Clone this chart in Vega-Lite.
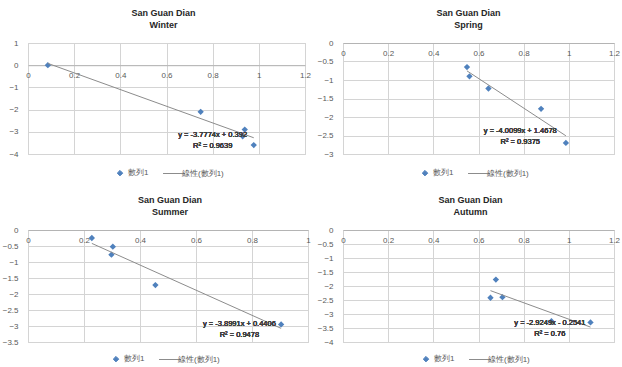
{
  "$schema": "https://vega.github.io/schema/vega-lite/v6.json",
  "background": "white",
  "padding": {"left": 1, "top": 8, "right": 0, "bottom": 0},
  "datasets": {
    "winter": [{"x": 0.086, "y": 0.0}, {"x": 0.748, "y": -2.1}, {"x": 0.939, "y": -2.9}, {"x": 0.93, "y": -3.2}, {"x": 0.978, "y": -3.6}],
    "spring": [{"x": 0.549, "y": -0.65}, {"x": 0.56, "y": -0.9}, {"x": 0.644, "y": -1.23}, {"x": 0.877, "y": -1.78}, {"x": 0.987, "y": -2.7}],
    "summer": [{"x": 0.228, "y": -0.25}, {"x": 0.303, "y": -0.52}, {"x": 0.298, "y": -0.77}, {"x": 0.455, "y": -1.72}, {"x": 0.904, "y": -2.95}],
    "autumn": [{"x": 0.653, "y": -2.42}, {"x": 0.677, "y": -1.77}, {"x": 0.706, "y": -2.4}, {"x": 0.923, "y": -3.26}, {"x": 1.096, "y": -3.3}]
  },
  "config": {
    "font": "Liberation Sans",
    "view": {"stroke": "#c8c8c8", "strokeWidth": 1},
    "axis": {"labelFont": "Liberation Sans", "labelFontSize": 8, "labelColor": "#595959", "gridColor": "#d4d4d4", "ticks": false, "tickSize": 0, "labelFlush": false, "labelOverlap": false, "title": null, "format": "~g"},
    "title": {"fontSize": 9, "fontWeight": "bold", "color": "#262626", "lineHeight": 12.5, "offset": 9},
    "legend": {"orient": "none", "direction": "horizontal", "labelFontSize": 8, "labelColor": "#595959", "title": null, "symbolSize": 30, "columnPadding": 12, "symbolStrokeWidth": 1}
  },
  "spacing": 16,
  "resolve": {"scale": {"x": "independent", "y": "independent", "color": "independent", "shape": "independent"}, "axis": {"x": "independent", "y": "independent"}, "legend": {"color": "independent", "shape": "independent"}},
  "vconcat": [
    {
      "spacing": 4,
      "resolve": {"scale": {"x": "independent", "y": "independent", "color": "independent", "shape": "independent"}, "axis": {"x": "independent", "y": "independent"}, "legend": {"color": "independent", "shape": "independent"}},
      "hconcat": [
        {
          "title": {"text": ["San Guan Dian", "Winter"], "dx": -3},
          "width": 277, "height": 111,
          "data": {"name": "winter"},
          "resolve": {"axis": {"x": "independent"}},
          "layer": [
            {
              "mark": {"type": "point", "shape": "diamond", "filled": true, "size": 40, "opacity": 1},
              "encoding": {
                "x": {"field": "x", "type": "quantitative", "scale": {"domain": [0, 1.2], "nice": false}, "axis": {"orient": "bottom", "labels": false, "domain": false, "grid": true, "values": [0, 0.2, 0.4, 0.6, 0.8, 1, 1.2]}},
                "y": {"field": "y", "type": "quantitative", "scale": {"domain": [-4, 1], "nice": false}, "axis": {"values": [1, 0, -1, -2, -3, -4], "domain": false, "labelPadding": 10}},
                "color": {"datum": "數列1", "scale": {"domain": ["數列1", "線性(數列1)"], "range": ["#4f81bd", "#8c8c8c"]}, "legend": {"legendX": 88, "legendY": 126}},
                "shape": {"datum": "數列1", "scale": {"domain": ["數列1", "線性(數列1)"], "range": ["diamond", "M-4,0H4"]}, "legend": {"legendX": 88, "legendY": 126}}
              }
            },
            {
              "transform": [{"regression": "y", "on": "x"}],
              "mark": {"type": "line", "strokeWidth": 1},
              "encoding": {
                "x": {"field": "x", "type": "quantitative", "axis": {"orient": "top", "offset": -22.2, "grid": false, "domain": true, "domainColor": "#b4b4b4", "labelBaseline": "middle", "labelPadding": -10, "values": [0, 0.2, 0.4, 0.6, 0.8, 1, 1.2]}},
                "y": {"field": "y", "type": "quantitative", "axis": {"values": [1, 0, -1, -2, -3, -4], "domain": false, "labelPadding": 10}},
                "color": {"datum": "線性(數列1)"}
              }
            },
            {
              "mark": {"type": "text", "fontSize": 7.5, "fontWeight": "normal", "color": "#404040", "lineHeight": 11, "baseline": "top"},
              "encoding": {
                "x": {"datum": 0.8, "type": "quantitative", "axis": null},
                "y": {"datum": -2.95, "type": "quantitative", "axis": {"values": [1, 0, -1, -2, -3, -4], "domain": false, "labelPadding": 10}},
                "text": {"value": ["y = -3.7774x + 0.392", "R² = 0.9639"]}
              }
            }
          ]
        },
        {
          "title": {"text": ["San Guan Dian", "Spring"], "dx": -10},
          "width": 271, "height": 111,
          "data": {"name": "spring"},
          "resolve": {"axis": {"x": "independent"}},
          "layer": [
            {
              "mark": {"type": "point", "shape": "diamond", "filled": true, "size": 40, "opacity": 1},
              "encoding": {
                "x": {"field": "x", "type": "quantitative", "scale": {"domain": [0, 1.2], "nice": false}, "axis": {"orient": "bottom", "labels": false, "domain": false, "grid": true, "values": [0, 0.2, 0.4, 0.6, 0.8, 1, 1.2]}},
                "y": {"field": "y", "type": "quantitative", "scale": {"domain": [-3, 0], "nice": false}, "axis": {"values": [0, -0.5, -1, -1.5, -2, -2.5, -3], "domain": false, "labelPadding": 10}},
                "color": {"datum": "數列1", "scale": {"domain": ["數列1", "線性(數列1)"], "range": ["#4f81bd", "#8c8c8c"]}, "legend": {"legendX": 78, "legendY": 126}},
                "shape": {"datum": "數列1", "scale": {"domain": ["數列1", "線性(數列1)"], "range": ["diamond", "M-4,0H4"]}, "legend": {"legendX": 78, "legendY": 126}}
              }
            },
            {
              "transform": [{"regression": "y", "on": "x"}],
              "mark": {"type": "line", "strokeWidth": 1},
              "encoding": {
                "x": {"field": "x", "type": "quantitative", "axis": {"orient": "top", "offset": 0, "grid": false, "domain": true, "domainColor": "#b4b4b4", "labelBaseline": "middle", "labelPadding": -10, "values": [0, 0.2, 0.4, 0.6, 0.8, 1, 1.2]}},
                "y": {"field": "y", "type": "quantitative", "axis": {"values": [0, -0.5, -1, -1.5, -2, -2.5, -3], "domain": false, "labelPadding": 10}},
                "color": {"datum": "線性(數列1)"}
              }
            },
            {
              "mark": {"type": "text", "fontSize": 7.5, "fontWeight": "normal", "color": "#404040", "lineHeight": 11, "baseline": "top"},
              "encoding": {
                "x": {"datum": 0.785, "type": "quantitative", "axis": null},
                "y": {"datum": -2.28, "type": "quantitative", "axis": {"values": [0, -0.5, -1, -1.5, -2, -2.5, -3], "domain": false, "labelPadding": 10}},
                "text": {"value": ["y = -4.0099x + 1.4678", "R² = 0.9375"]}
              }
            }
          ]
        }
      ]
    },
    {
      "spacing": 5,
      "resolve": {"scale": {"x": "independent", "y": "independent", "color": "independent", "shape": "independent"}, "axis": {"x": "independent", "y": "independent"}, "legend": {"color": "independent", "shape": "independent"}},
      "hconcat": [
        {
          "title": {"text": ["San Guan Dian", "Summer"], "dx": 2},
          "width": 280, "height": 112,
          "data": {"name": "summer"},
          "resolve": {"axis": {"x": "independent"}},
          "layer": [
            {
              "mark": {"type": "point", "shape": "diamond", "filled": true, "size": 40, "opacity": 1},
              "encoding": {
                "x": {"field": "x", "type": "quantitative", "scale": {"domain": [0, 1], "nice": false}, "axis": {"orient": "bottom", "labels": false, "domain": false, "grid": true, "values": [0, 0.2, 0.4, 0.6, 0.8, 1]}},
                "y": {"field": "y", "type": "quantitative", "scale": {"domain": [-3.5, 0], "nice": false}, "axis": {"values": [0, -0.5, -1, -1.5, -2, -2.5, -3, -3.5], "domain": false, "labelPadding": 10}},
                "color": {"datum": "數列1", "scale": {"domain": ["數列1", "線性(數列1)"], "range": ["#4f81bd", "#8c8c8c"]}, "legend": {"legendX": 84, "legendY": 125}},
                "shape": {"datum": "數列1", "scale": {"domain": ["數列1", "線性(數列1)"], "range": ["diamond", "M-4,0H4"]}, "legend": {"legendX": 84, "legendY": 125}}
              }
            },
            {
              "transform": [{"regression": "y", "on": "x"}],
              "mark": {"type": "line", "strokeWidth": 1},
              "encoding": {
                "x": {"field": "x", "type": "quantitative", "axis": {"orient": "top", "offset": 0, "grid": false, "domain": true, "domainColor": "#b4b4b4", "labelBaseline": "middle", "labelPadding": -10, "values": [0, 0.2, 0.4, 0.6, 0.8, 1]}},
                "y": {"field": "y", "type": "quantitative", "axis": {"values": [0, -0.5, -1, -1.5, -2, -2.5, -3, -3.5], "domain": false, "labelPadding": 10}},
                "color": {"datum": "線性(數列1)"}
              }
            },
            {
              "mark": {"type": "text", "fontSize": 7.5, "fontWeight": "normal", "color": "#404040", "lineHeight": 11, "baseline": "top"},
              "encoding": {
                "x": {"datum": 0.755, "type": "quantitative", "axis": null},
                "y": {"datum": -2.8, "type": "quantitative", "axis": {"values": [0, -0.5, -1, -1.5, -2, -2.5, -3, -3.5], "domain": false, "labelPadding": 10}},
                "text": {"value": ["y = -3.8991x + 0.4406", "R² = 0.9478"]}
              }
            }
          ]
        },
        {
          "title": {"text": ["San Guan Dian", "Autumn"], "dx": -8},
          "width": 271, "height": 112,
          "data": {"name": "autumn"},
          "resolve": {"axis": {"x": "independent"}},
          "layer": [
            {
              "mark": {"type": "point", "shape": "diamond", "filled": true, "size": 40, "opacity": 1},
              "encoding": {
                "x": {"field": "x", "type": "quantitative", "scale": {"domain": [0, 1.2], "nice": false}, "axis": {"orient": "bottom", "labels": false, "domain": false, "grid": true, "values": [0, 0.2, 0.4, 0.6, 0.8, 1, 1.2]}},
                "y": {"field": "y", "type": "quantitative", "scale": {"domain": [-4, 0], "nice": false}, "axis": {"values": [0, -0.5, -1, -1.5, -2, -2.5, -3, -3.5, -4], "domain": false, "labelPadding": 10}},
                "color": {"datum": "數列1", "scale": {"domain": ["數列1", "線性(數列1)"], "range": ["#4f81bd", "#8c8c8c"]}, "legend": {"legendX": 79, "legendY": 125}},
                "shape": {"datum": "數列1", "scale": {"domain": ["數列1", "線性(數列1)"], "range": ["diamond", "M-4,0H4"]}, "legend": {"legendX": 79, "legendY": 125}}
              }
            },
            {
              "transform": [{"regression": "y", "on": "x"}],
              "mark": {"type": "line", "strokeWidth": 1},
              "encoding": {
                "x": {"field": "x", "type": "quantitative", "axis": {"orient": "top", "offset": 0, "grid": false, "domain": true, "domainColor": "#b4b4b4", "labelBaseline": "middle", "labelPadding": -10, "values": [0, 0.2, 0.4, 0.6, 0.8, 1, 1.2]}},
                "y": {"field": "y", "type": "quantitative", "axis": {"values": [0, -0.5, -1, -1.5, -2, -2.5, -3, -3.5, -4], "domain": false, "labelPadding": 10}},
                "color": {"datum": "線性(數列1)"}
              }
            },
            {
              "mark": {"type": "text", "fontSize": 7.5, "fontWeight": "normal", "color": "#404040", "lineHeight": 11, "baseline": "top"},
              "encoding": {
                "x": {"datum": 0.916, "type": "quantitative", "axis": null},
                "y": {"datum": -3.17, "type": "quantitative", "axis": {"values": [0, -0.5, -1, -1.5, -2, -2.5, -3, -3.5, -4], "domain": false, "labelPadding": 10}},
                "text": {"value": ["y = -2.9249x - 0.2541", "R² = 0.76"]}
              }
            }
          ]
        }
      ]
    }
  ]
}
